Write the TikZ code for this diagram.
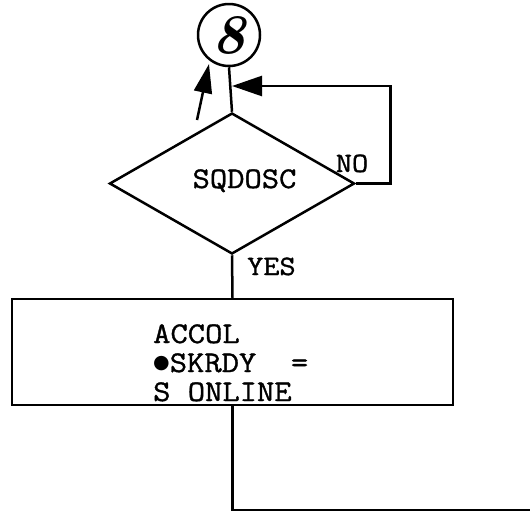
\documentclass[tikz,border=0pt]{standalone}
\usepackage{fontspec}
\newfontfamily\tw{Latin Modern Mono}[FakeStretch=1.12,FakeBold=1.2]
\newfontfamily\symfont{DejaVu Sans}
\usetikzlibrary{shapes.geometric,arrows.meta}
\begin{document}
\begin{tikzpicture}[x=1pt,y=1pt,
  line/.style={line width=2.5pt},
  lbl/.style={font=\tw\fontsize{28}{28}\selectfont, inner sep=0pt},
  boxtxt/.style={font=\tw\fontsize{30}{30}\selectfont, inner sep=0pt, anchor=base west},
  bigtip/.style={-{Triangle[length=30pt,width=20pt]}}]
\useasboundingbox (0,0) rectangle (530,-512);
% connector circle
\node[draw, line width=2.5pt, circle, minimum size=62pt, inner sep=0pt,
      font=\bfseries\itshape\fontsize{56}{56}\selectfont] (c) at (229,-35) {8};
% decision
\node[draw, line width=2.5pt, diamond, minimum width=245pt, minimum height=141pt,
      shape aspect=1.74, inner sep=0pt] (d) at (232,-183.5) {};
\node[lbl, font=\tw\fontsize{30}{30}\selectfont, anchor=base] (dt) at (244.5,-188) {SQDOSC};
\node[lbl, anchor=base] (no) at (352,-172) {NO};
\node[lbl, anchor=base west] (yes) at (247,-275) {YES};
% process box
\node[draw, line width=2.5pt, rectangle, minimum width=441pt, minimum height=106pt,
      inner sep=0pt] (b) at (232.5,-352) {};
\node[boxtxt] (t1) at (153,-343) {ACCOL};
\node[boxtxt] (t2) at (153,-372) {\raisebox{3.5pt}{\symfont\fontsize{19}{19}\selectfont ●}SKRDY\ \ =};
\node[boxtxt] (t3) at (153,-401) {S ONLINE};
% connectors
\coordinate (j) at (232,-86);
\coordinate (s0) at (197,-120);
\coordinate (s1) at (209,-64);
\coordinate (e) at (530,-510);
\draw[line] (c.south) -- (d.north);
\draw[line, bigtip] (d.east) -- ++(34.5,0) |- (j);
\draw[line, -{Triangle[length=29pt,width=18pt]}] (s0) -- (s1);
\draw[line] (d.south) -- (b.north);
\draw[line] (b.south) |- (e);
\end{tikzpicture}
\end{document}
